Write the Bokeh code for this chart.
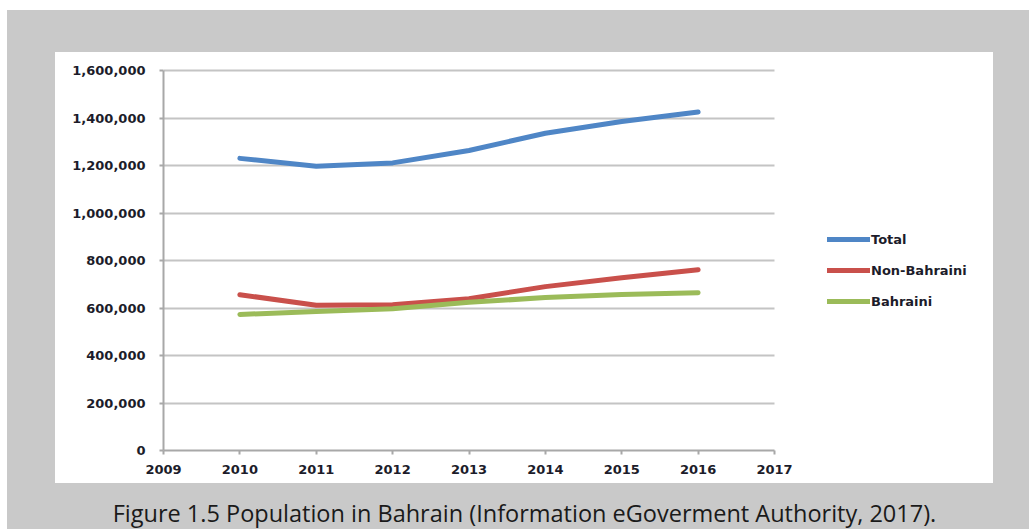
from bokeh.plotting import figure
from bokeh.models import (ColumnDataSource, Legend, LegendItem, Div, FixedTicker,
                          NumeralTickFormatter, Range1d)
from bokeh.layouts import column
from bokeh.embed import file_html
from bokeh.resources import INLINE

# ---- data ----
years = [2010, 2011, 2012, 2013, 2014, 2015, 2016]
total = [1230000, 1197000, 1211000, 1263000, 1336000, 1385000, 1425000]
non_bahraini = [656000, 612000, 614000, 639000, 690000, 727000, 761000]
bahraini = [573000, 585000, 597000, 624000, 644000, 657000, 664000]
series_names = ["Total", "Non-Bahraini", "Bahraini"]
x_ticks = [2009, 2010, 2011, 2012, 2013, 2014, 2015, 2016, 2017]
y_ticks = [0, 200000, 400000, 600000, 800000, 1000000, 1200000, 1400000, 1600000]
caption = "Figure 1.5 Population in Bahrain (Information eGoverment Authority, 2017)."

colors = ["#4f86c6", "#c9504b", "#9bbb59"]
label_font = "DejaVu Sans"
label_color = "#1c1c2a"

x_start, x_end = x_ticks[0], x_ticks[-1]
y_top = y_ticks[-1]
# frame continues to the right of the axis to leave room for the legend,
# and a hair above the top tick so its grid line is not cut by the frame
x_view_end = x_start + (x_end - x_start) * 830 / 611
y_view_top = y_top * 382 / 380

p = figure(width=938, height=431, output_backend="svg", toolbar_location=None,
           x_range=Range1d(x_start, x_view_end), y_range=Range1d(0, y_view_top),
           min_border_left=108, min_border_right=0, min_border_top=16,
           min_border_bottom=33)
p.border_fill_color = "white"
p.background_fill_color = "white"
p.outline_line_color = None
p.styles = {"background-color": "white"}

src = ColumnDataSource(dict(x=years, total=total, non=non_bahraini, bah=bahraini))
renderers = []
for key, c in zip(["total", "non", "bah"], colors):
    r = p.line("x", key, source=src, line_color=c, line_width=5, line_cap="round",
               line_join="round")
    renderers.append(r)

# axes
for ax in (p.xaxis[0], p.yaxis[0]):
    ax.axis_line_color = "#a8a8a8"
    ax.axis_line_width = 2
    ax.major_tick_line_color = "#a8a8a8"
    ax.major_tick_line_width = 2
    ax.major_tick_in = 0
    ax.major_tick_out = 4
    ax.minor_tick_line_color = None
    ax.minor_tick_out = 0
    ax.major_label_text_font = label_font
    ax.major_label_text_font_size = "13px"
    ax.major_label_text_font_style = "bold"
    ax.major_label_text_color = label_color

p.xaxis.ticker = FixedTicker(ticks=x_ticks)
p.xaxis.bounds = (x_start, x_end)
p.yaxis.ticker = FixedTicker(ticks=y_ticks)
p.yaxis.bounds = (0, y_top)
p.yaxis.formatter = NumeralTickFormatter(format="0,0")
p.yaxis.major_label_standoff = 14
p.xaxis.major_label_standoff = 10

p.xgrid.visible = False
p.ygrid.ticker = FixedTicker(ticks=y_ticks[1:])
p.ygrid.grid_line_color = "#c4c4c4"
p.ygrid.grid_line_width = 2
p.ygrid.cross_bounds = (x_start, x_end)

legend = Legend(items=[LegendItem(label=n, renderers=[r]) for n, r in zip(series_names, renderers)],
                location=(664, 139), orientation="vertical")
legend.border_line_color = None
legend.background_fill_alpha = 0
legend.padding = 0
legend.margin = 0
legend.spacing = 11
legend.glyph_width = 43
legend.glyph_height = 20
legend.label_height = 20
legend.label_standoff = 1
legend.label_text_font = label_font
legend.label_text_font_size = "13px"
legend.label_text_font_style = "bold"
legend.label_text_color = label_color
p.add_layout(legend)

p.margin = (42, 0, 0, 48)

cap = Div(text=caption, width=993, height=30, margin=(15, 0, 0, 21),
          styles={"font-family": "Open Sans", "font-size": "23.5px", "color": "#1a1a1a",
                  "text-align": "center", "line-height": "30px"})

layout = column(p, cap, width=1022, height=519, margin=(10, 0, 0, 7),
                styles={"background-color": "#c9c9c9"})

open("out.html", "w").write(file_html(layout, INLINE))
